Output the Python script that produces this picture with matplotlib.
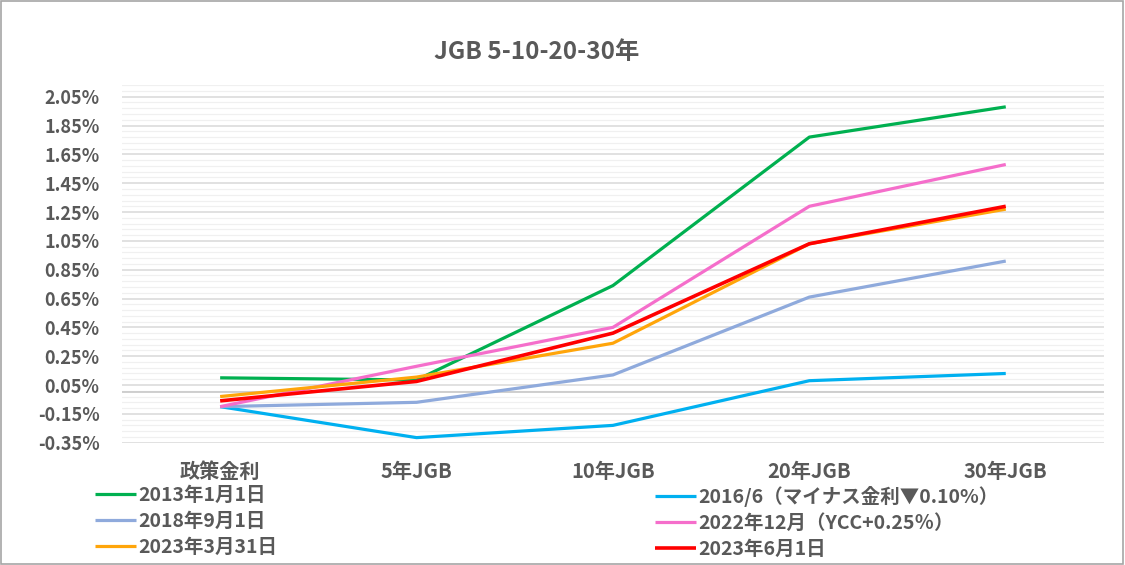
import numpy as np
import matplotlib
matplotlib.use("Agg")
import matplotlib.pyplot as plt
from matplotlib.patches import Rectangle

plt.rcParams['font.family'] = ['Noto Sans CJK JP', 'DejaVu Sans']

# データ（%）
categories = ['政策金利', '5年JGB', '10年JGB', '20年JGB', '30年JGB']
labels = ['2013年1月1日', '2016/6（マイナス金利▼0.10%）', '2018年9月1日',
          '2022年12月（YCC+0.25％）', '2023年3月31日', '2023年6月1日']
y2013 = [0.10, 0.085, 0.74, 1.77, 1.98]
y2016 = [-0.10, -0.315, -0.23, 0.08, 0.13]
y2018 = [-0.10, -0.07, 0.12, 0.66, 0.91]
y2022 = [-0.10, 0.18, 0.45, 1.29, 1.58]
y2023_3 = [-0.03, 0.105, 0.34, 1.03, 1.27]
y2023_6 = [-0.06, 0.075, 0.41, 1.03, 1.29]

series = [y2013, y2016, y2018, y2022, y2023_3, y2023_6]
colors = ['#00B050', '#00B0F0', '#8FAADC', '#F56ECB', '#FFA50A', '#FF0000']
widths = [2.3, 2.3, 2.3, 2.3, 2.3, 2.6]

gray = '#595959'

fig = plt.figure(figsize=(11.25, 5.65), dpi=100)
ax = fig.add_axes([0.1084, 0.2165, 0.8729, 0.6327])

x = np.arange(len(categories))
lines = []
for vals, c, lw, lab in zip(series, colors, widths, labels):
    ln, = ax.plot(x, vals, color=c, lw=lw, label=lab, zorder=3,
                  solid_capstyle='butt')
    lines.append(ln)

ax.set_xlim(-0.5, len(categories) - 0.5)
ax.set_ylim(-0.35, 2.13)
ax.set_yticks(np.arange(-0.35, 2.06, 0.2))
ax.set_yticks(np.arange(-0.35, 2.14, 0.04), minor=True)
ax.set_yticklabels(['{:.2f}%'.format(v) for v in np.arange(-0.35, 2.06, 0.2)])
ax.grid(axis='y', which='major', color='#d9d9d9', lw=1.1, zorder=1)
ax.grid(axis='y', which='minor', color='#f0f0f0', lw=0.9, zorder=0)
ax.axhline(0, color='#c8c8c8', lw=1.2, zorder=2)

ax.set_xticks(x)
ax.set_xticklabels(categories)
for s in ax.spines.values():
    s.set_visible(False)
ax.tick_params(axis='y', which='both', length=0, pad=16, labelsize=13,
               labelcolor=gray)
ax.tick_params(axis='x', length=0, pad=13, labelsize=14.5, labelcolor=gray)
for t in ax.get_xticklabels() + ax.get_yticklabels():
    t.set_fontweight('bold')

fig.text(0.477, 0.908, 'JGB 5-10-20-30年', ha='center', va='center',
         fontsize=17.5, fontweight='bold', color=gray)

# 凡例（左列・右列）
leg_kw = dict(loc='upper left', frameon=False, borderaxespad=0, borderpad=0,
              handlelength=2.1, handletextpad=0.15, labelspacing=0.36,
              prop={'size': 14, 'weight': 'bold'})
left = fig.legend([lines[0], lines[2], lines[4]],
                  [labels[0], labels[2], labels[4]],
                  bbox_to_anchor=(95 / 1125, 1 - 486 / 565), **leg_kw)
right = fig.legend([lines[1], lines[3], lines[5]],
                   [labels[1], labels[3], labels[5]],
                   bbox_to_anchor=(655 / 1125, 1 - 486 / 565), **leg_kw)
for lg in (left, right):
    for t in lg.get_texts():
        t.set_color(gray)

fig.patches.append(Rectangle((0.0009, 0.0018), 0.9973, 0.9964,
                             transform=fig.transFigure, fill=False,
                             edgecolor='#a6a6a6', lw=1.2))

fig.savefig('out.png', dpi=100, facecolor='white')
